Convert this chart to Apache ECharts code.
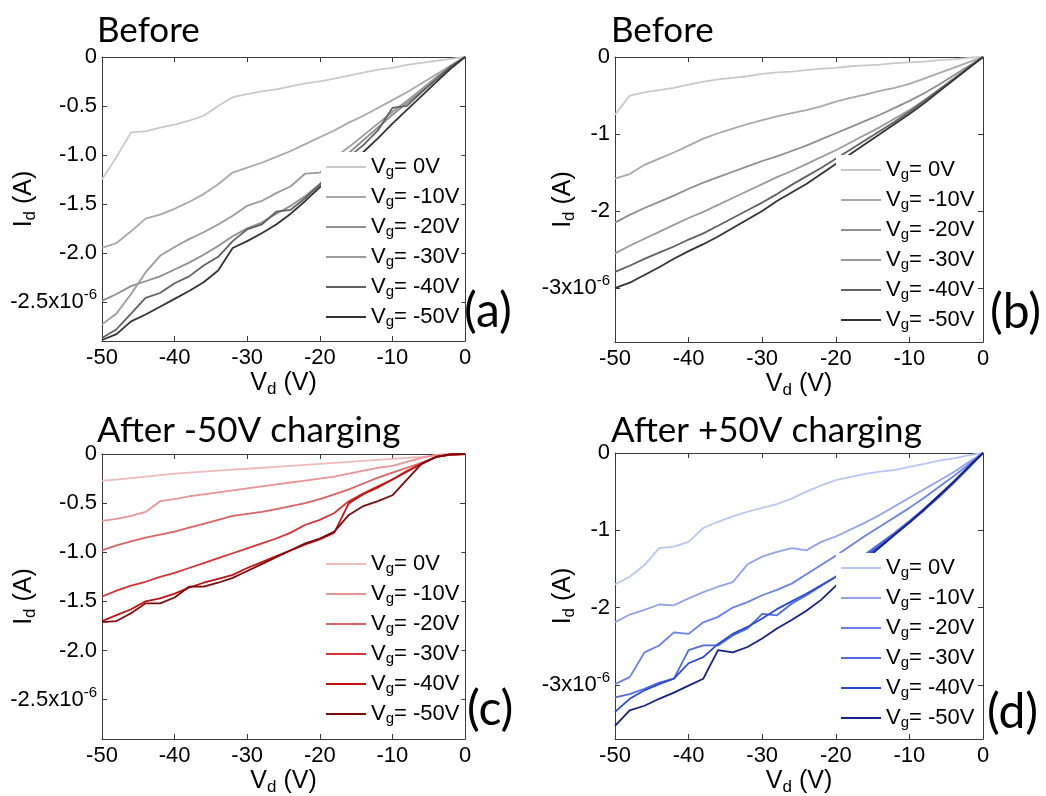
<!DOCTYPE html>
<html>
<head>
<meta charset="utf-8">
<script src="https://cdn.jsdelivr.net/npm/echarts@6/dist/echarts.min.js"></script>
<style>
  html, body { margin: 0; padding: 0; background: #fff; }
  #chart { width: 1046px; height: 796px; }
</style>
</head>
<body>
<div id="chart"></div>
<script>
// Drain voltage sweep (V)
const vd = [-50, -48, -46, -44, -42, -40, -38, -36, -34, -32, -30, -28, -26,
            -24, -22, -20, -18, -16, -14, -12, -10, -8, -6, -4, -2, 0];

// Gate voltages shown in every legend
const gateLabels = ['0V', '-10V', '-20V', '-30V', '-40V', '-50V'];

// Drain current, in units of 1e-6 A
// (a) Before
const a0  = [-1.25,-1.02,-0.77,-0.76,-0.72,-0.69,-0.65,-0.60,-0.50,-0.41,-0.38,-0.35,-0.33,-0.30,-0.27,-0.25,-0.22,-0.19,-0.16,-0.13,-0.11,-0.08,-0.06,-0.04,-0.02,0];
const a10 = [-1.95,-1.90,-1.78,-1.65,-1.61,-1.55,-1.48,-1.40,-1.30,-1.18,-1.13,-1.08,-1.02,-0.96,-0.89,-0.82,-0.75,-0.67,-0.60,-0.52,-0.44,-0.36,-0.27,-0.18,-0.09,0];
const a20 = [-2.49,-2.42,-2.34,-2.29,-2.24,-2.17,-2.10,-2.02,-1.93,-1.83,-1.75,-1.69,-1.60,-1.52,-1.42,-1.30,-1.12,-0.98,-0.85,-0.72,-0.59,-0.47,-0.35,-0.23,-0.10,0];
const a30 = [-2.73,-2.62,-2.42,-2.20,-2.03,-1.94,-1.86,-1.79,-1.71,-1.62,-1.52,-1.47,-1.39,-1.32,-1.19,-1.18,-1.03,-0.92,-0.80,-0.68,-0.56,-0.45,-0.33,-0.21,-0.09,0];
const a40 = [-2.87,-2.78,-2.62,-2.46,-2.41,-2.31,-2.24,-2.13,-2.04,-1.88,-1.76,-1.71,-1.58,-1.56,-1.44,-1.30,-1.14,-1.02,-0.90,-0.75,-0.52,-0.50,-0.36,-0.23,-0.10,0];
const a50 = [-2.89,-2.83,-2.70,-2.63,-2.55,-2.47,-2.39,-2.30,-2.18,-1.95,-1.88,-1.80,-1.71,-1.60,-1.47,-1.33,-1.20,-1.08,-0.97,-0.83,-0.68,-0.54,-0.40,-0.26,-0.12,0];
// (b) Before
const b0  = [-0.75,-0.50,-0.46,-0.43,-0.40,-0.36,-0.32,-0.29,-0.27,-0.25,-0.22,-0.20,-0.19,-0.17,-0.15,-0.14,-0.12,-0.11,-0.10,-0.08,-0.07,-0.06,-0.04,-0.03,-0.01,0];
const b10 = [-1.58,-1.52,-1.40,-1.32,-1.24,-1.15,-1.06,-0.99,-0.93,-0.87,-0.82,-0.77,-0.73,-0.69,-0.64,-0.58,-0.53,-0.49,-0.44,-0.40,-0.35,-0.28,-0.21,-0.14,-0.07,0];
const b20 = [-2.15,-2.05,-1.96,-1.88,-1.80,-1.71,-1.63,-1.56,-1.49,-1.42,-1.35,-1.29,-1.22,-1.15,-1.07,-0.99,-0.91,-0.83,-0.75,-0.66,-0.57,-0.47,-0.36,-0.24,-0.12,0];
const b30 = [-2.55,-2.45,-2.36,-2.27,-2.18,-2.09,-2.01,-1.92,-1.83,-1.74,-1.65,-1.56,-1.48,-1.39,-1.30,-1.21,-1.11,-1.01,-0.91,-0.80,-0.69,-0.56,-0.42,-0.28,-0.14,0];
const b40 = [-2.79,-2.71,-2.62,-2.54,-2.46,-2.37,-2.29,-2.19,-2.09,-1.99,-1.89,-1.78,-1.66,-1.55,-1.44,-1.32,-1.20,-1.08,-0.96,-0.84,-0.71,-0.57,-0.43,-0.29,-0.14,0];
const b50 = [-3.00,-2.93,-2.83,-2.73,-2.62,-2.52,-2.43,-2.33,-2.22,-2.11,-2.00,-1.87,-1.76,-1.65,-1.52,-1.39,-1.26,-1.13,-1.00,-0.87,-0.74,-0.60,-0.45,-0.30,-0.15,0];
// (c) After -50V charging
const c0  = [-0.27,-0.26,-0.245,-0.23,-0.215,-0.20,-0.19,-0.18,-0.17,-0.16,-0.15,-0.14,-0.13,-0.12,-0.11,-0.10,-0.09,-0.08,-0.07,-0.06,-0.05,-0.04,-0.03,-0.015,-0.005,0];
const c10 = [-0.68,-0.66,-0.63,-0.59,-0.48,-0.46,-0.43,-0.41,-0.39,-0.37,-0.35,-0.33,-0.31,-0.29,-0.27,-0.25,-0.23,-0.20,-0.17,-0.14,-0.12,-0.08,-0.04,-0.01,0,0];
const c20 = [-0.98,-0.93,-0.89,-0.85,-0.82,-0.79,-0.75,-0.71,-0.67,-0.63,-0.61,-0.59,-0.56,-0.53,-0.50,-0.46,-0.41,-0.36,-0.30,-0.24,-0.19,-0.14,-0.09,-0.03,-0.005,0];
const c30 = [-1.45,-1.39,-1.34,-1.30,-1.25,-1.21,-1.16,-1.11,-1.06,-1.01,-0.96,-0.91,-0.86,-0.80,-0.72,-0.67,-0.60,-0.48,-0.40,-0.33,-0.26,-0.17,-0.10,-0.03,-0.005,0];
const c40 = [-1.70,-1.64,-1.58,-1.50,-1.47,-1.42,-1.36,-1.31,-1.27,-1.23,-1.16,-1.10,-1.04,-0.98,-0.92,-0.87,-0.80,-0.50,-0.41,-0.34,-0.26,-0.18,-0.10,-0.03,-0.005,0];
const c50 = [-1.71,-1.70,-1.62,-1.52,-1.52,-1.46,-1.35,-1.35,-1.31,-1.26,-1.19,-1.12,-1.05,-0.98,-0.91,-0.86,-0.79,-0.62,-0.53,-0.48,-0.42,-0.26,-0.10,-0.03,-0.005,0];
// (d) After +50V charging
const d0  = [-1.70,-1.60,-1.45,-1.23,-1.21,-1.15,-0.97,-0.89,-0.82,-0.76,-0.71,-0.66,-0.59,-0.50,-0.42,-0.35,-0.31,-0.27,-0.24,-0.22,-0.18,-0.14,-0.10,-0.07,-0.03,0];
const d10 = [-2.19,-2.09,-2.03,-1.96,-1.97,-1.88,-1.80,-1.73,-1.67,-1.44,-1.34,-1.28,-1.23,-1.26,-1.15,-1.08,-0.99,-0.90,-0.80,-0.69,-0.58,-0.47,-0.36,-0.25,-0.12,0];
const d20 = [-2.99,-2.90,-2.58,-2.49,-2.32,-2.34,-2.19,-2.12,-2.00,-1.93,-1.84,-1.77,-1.69,-1.57,-1.45,-1.33,-1.20,-1.07,-0.95,-0.83,-0.71,-0.58,-0.44,-0.30,-0.15,0];
const d30 = [-3.16,-3.12,-3.05,-2.97,-2.92,-2.55,-2.49,-2.49,-2.36,-2.27,-2.08,-2.10,-1.95,-1.84,-1.72,-1.60,-1.45,-1.31,-1.17,-1.03,-0.88,-0.72,-0.55,-0.38,-0.19,0];
const d40 = [-3.35,-3.18,-3.07,-2.99,-2.92,-2.72,-2.64,-2.47,-2.34,-2.25,-2.14,-2.02,-1.92,-1.82,-1.71,-1.60,-1.47,-1.34,-1.20,-1.05,-0.90,-0.74,-0.57,-0.39,-0.20,0];
const d50 = [-3.53,-3.33,-3.27,-3.18,-3.10,-3.01,-2.92,-2.55,-2.58,-2.51,-2.40,-2.27,-2.16,-2.04,-1.90,-1.72,-1.55,-1.38,-1.22,-1.06,-0.90,-0.73,-0.55,-0.37,-0.18,0];

// Tick values on the current axes
const yTicksHalf = [0, -0.5, -1.0, -1.5, -2.0, -2.5];
const yTicksUnit = [0, -1, -2, -3];

// Line colours per panel, 0V ... -50V
const grays = ['#c9c9c9', '#a9a9a9', '#8f8f8f', '#9b9b9b', '#626262', '#333333'];
const reds  = ['#f1b9b9', '#e99595', '#dd6262', '#d83232', '#c41212', '#7c0b0b'];
const blues = ['#bac7f6', '#91a3ef', '#6982e8', '#4f6be2', '#2b49d4', '#15218b'];

const SANS = '"Liberation Sans", Arial, Helvetica, sans-serif';
const TITLE_FONT = 'Lato, "Open Sans", sans-serif';
const FRAME = '#3a3a3a';

function halfLabel(v) {
  if (v === 0) return '0';
  if (v === -2.5) return '{n|-2.5x10}{s|-6}';
  return v.toFixed(1);
}
function unitLabel(v) {
  if (v === -3) return '{n|-3x10}{s|-6}';
  return String(v);
}

const panels = [
  { key: 'a', grid: { left: 102, top: 57, width: 363, height: 284 }, ymin: -2.9, ticks: yTicksHalf, fmt: halfLabel,
    yNameGap: 63, colors: grays, values: [a0, a10, a20, a30, a40, a50],
    legend: { left: 321, top: 152 }, title: { text: 'Before', left: 97, top: 11 }, letter: { text: '(a)', left: 464, top: 285 } },
  { key: 'b', grid: { left: 615, top: 57, width: 368, height: 285 }, ymin: -3.7, ticks: yTicksUnit, fmt: unitLabel,
    yNameGap: 37, colors: grays, values: [b0, b10, b20, b30, b40, b50],
    legend: { left: 836, top: 155 }, title: { text: 'Before', left: 611, top: 11 }, letter: { text: '(b)', left: 990, top: 286 } },
  { key: 'c', grid: { left: 102, top: 454, width: 363, height: 285 }, ymin: -2.9, ticks: yTicksHalf, fmt: halfLabel,
    yNameGap: 63, colors: reds, values: [c0, c10, c20, c30, c40, c50],
    legend: { left: 321, top: 549 }, title: { text: 'After -50V charging', left: 97, top: 411 }, letter: { text: '(c)', left: 467, top: 683 } },
  { key: 'd', grid: { left: 615, top: 453, width: 368, height: 286 }, ymin: -3.7, ticks: yTicksUnit, fmt: unitLabel,
    yNameGap: 37, colors: blues, values: [d0, d10, d20, d30, d40, d50],
    legend: { left: 836, top: 553 }, title: { text: 'After +50V charging', left: 611, top: 411 }, letter: { text: '(d)', left: 987, top: 686 } }
];

const grid = [], xAxis = [], yAxis = [], series = [], legend = [], title = [];

const axisLine = { show: true, onZero: false, lineStyle: { color: FRAME, width: 1 } };
const nameRich = {
  n: { fontSize: 25, fontFamily: SANS, color: '#000' },
  d: { fontSize: 17, fontFamily: SANS, color: '#000', padding: [13, 0, 0, 0] }
};

panels.forEach((p, i) => {
  grid.push(Object.assign({ containLabel: false, outerBoundsMode: 'none' }, p.grid));

  xAxis.push({
    type: 'value', gridIndex: i, min: -50, max: 0, interval: 10, position: 'bottom',
    axisLine, axisTick: { inside: true, length: 5, lineStyle: { color: FRAME } },
    axisLabel: { fontSize: 22, color: '#000', margin: 6, fontFamily: SANS },
    splitLine: { show: false },
    name: '{n|V}{d|d}{n| (V)}', nameLocation: 'middle', nameGap: 27, nameMoveOverlap: false,
    nameTextStyle: { rich: nameRich }
  });
  xAxis.push({
    type: 'value', gridIndex: i, min: -50, max: 0, interval: 10, position: 'top',
    axisLine, axisTick: { inside: true, length: 5, lineStyle: { color: FRAME } },
    axisLabel: { show: false }, splitLine: { show: false }
  });

  yAxis.push({
    type: 'value', gridIndex: i, min: p.ymin, max: 0, position: 'left',
    axisLine,
    axisTick: { inside: true, length: 5, customValues: p.ticks, lineStyle: { color: FRAME } },
    axisLabel: {
      customValues: p.ticks, formatter: p.fmt, fontSize: 22, color: '#000', margin: 5, fontFamily: SANS,
      rich: {
        n: { fontSize: 22, fontFamily: SANS, color: '#000' },
        s: { fontSize: 15, fontFamily: SANS, color: '#000', padding: [0, 0, 14, 0] }
      }
    },
    splitLine: { show: false },
    name: '{n|I}{d|d}{n| (A)}', nameLocation: 'middle', nameGap: p.yNameGap, nameMoveOverlap: false,
    nameTextStyle: { rich: nameRich }
  });
  yAxis.push({
    type: 'value', gridIndex: i, min: p.ymin, max: 0, position: 'right',
    axisLine,
    axisTick: { inside: true, length: 5, customValues: p.ticks, lineStyle: { color: FRAME } },
    axisLabel: { show: false }, splitLine: { show: false }
  });

  const names = [];
  p.values.forEach((vals, k) => {
    const name = p.key + ':' + gateLabels[k];
    names.push(name);
    series.push({
      type: 'line', name, xAxisIndex: 2 * i, yAxisIndex: 2 * i,
      data: vd.map((x, j) => [x, vals[j]]),
      symbol: 'none', showSymbol: false,
      lineStyle: { color: p.colors[k], width: 1.8 },
      itemStyle: { color: p.colors[k] },
      animation: false
    });
  });

  legend.push({
    data: names, orient: 'vertical', left: p.legend.left, top: p.legend.top,
    icon: 'rect', itemWidth: 40, itemHeight: 2, itemGap: 6,
    backgroundColor: '#ffffff', padding: [3, 2, 3, 5],
    selectedMode: false,
    formatter: name => '{v|V}{g|g}{v|= ' + name.split(':')[1] + '}',
    textStyle: {
      fontSize: 22, color: '#000', fontFamily: SANS,
      rich: {
        v: { fontSize: 22, lineHeight: 24, fontFamily: SANS, color: '#000' },
        g: { fontSize: 15, lineHeight: 15, fontFamily: SANS, color: '#000', padding: [9, 0, 0, 0] }
      }
    }
  });

  title.push({
    text: p.title.text, left: p.title.left, top: p.title.top, padding: 0,
    textStyle: { fontFamily: TITLE_FONT, fontSize: 35, fontWeight: 'normal', color: '#000', lineHeight: 40 }
  });
  title.push({
    text: p.letter.text, left: p.letter.left, top: p.letter.top, padding: 0,
    textStyle: { fontFamily: TITLE_FONT, fontSize: 48, fontWeight: 'normal', color: '#000', lineHeight: 54 }
  });
});

const chart = echarts.init(document.getElementById('chart'), null, { renderer: 'canvas' });
chart.setOption({
  backgroundColor: '#ffffff',
  animation: false,
  title, grid, xAxis, yAxis, series, legend
});
</script>
</body>
</html>
